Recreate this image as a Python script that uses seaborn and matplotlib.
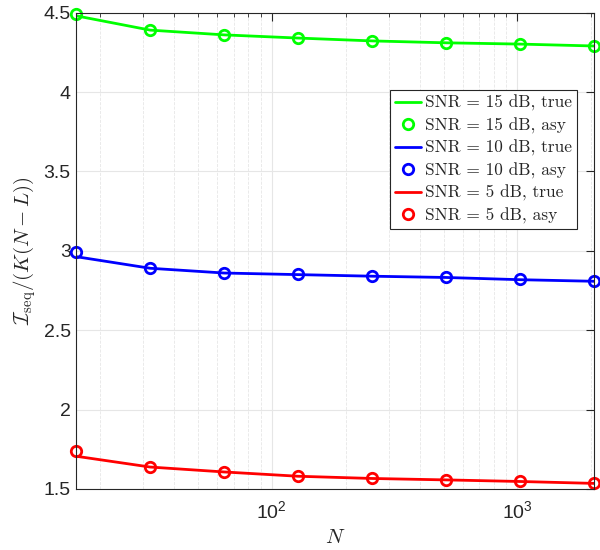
import numpy as np
import pandas as pd
import matplotlib
matplotlib.use('Agg')
import matplotlib.pyplot as plt
import seaborn as sns
from matplotlib.ticker import FormatStrFormatter, LogLocator

N = [16, 32, 64, 128, 256, 512, 1024, 2048]
snr_labels = ['15', '10', '5']
colors = {'15': '#00ff00', '10': '#0000ff', '5': '#ff0000'}

true_15 = [4.48, 4.39, 4.36, 4.34, 4.322, 4.31, 4.302, 4.29]
asy_15 = [4.49, 4.393, 4.36, 4.342, 4.322, 4.311, 4.305, 4.29]
true_10 = [2.963, 2.89, 2.86, 2.85, 2.84, 2.832, 2.818, 2.808]
asy_10 = [2.993, 2.89, 2.862, 2.852, 2.84, 2.833, 2.82, 2.812]
true_5 = [1.706, 1.638, 1.607, 1.58, 1.566, 1.557, 1.547, 1.535]
asy_5 = [1.739, 1.64, 1.609, 1.58, 1.567, 1.558, 1.548, 1.538]

true_vals = {'15': true_15, '10': true_10, '5': true_5}
asy_vals = {'15': asy_15, '10': asy_10, '5': asy_5}

sns.set_style('white')
plt.rcParams['font.family'] = ['Liberation Sans', 'DejaVu Sans']
plt.rcParams['mathtext.fontset'] = 'cm'

fig = plt.figure(figsize=(6, 5.5), dpi=100)
ax = fig.add_axes([0.127, 0.111, 0.863, 0.866])

for s in snr_labels:
    df_true = pd.DataFrame({'N': N, 'val': true_vals[s]})
    df_asy = pd.DataFrame({'N': N, 'val': asy_vals[s]})
    sns.lineplot(data=df_true, x='N', y='val', ax=ax, color=colors[s], linewidth=2,
                 label='SNR = %s dB, true' % s)
    ax.plot(df_asy['N'], df_asy['val'], linestyle='none', marker='o', markersize=7.5,
            markerfacecolor='none', markeredgecolor=colors[s], markeredgewidth=2,
            label='SNR = %s dB, asy' % s, clip_on=False)

ax.set_xscale('log')
ax.set_xlim(16, 2048)
ax.set_ylim(1.5, 4.5)
ax.set_yticks([1.5, 2, 2.5, 3, 3.5, 4, 4.5])
ax.yaxis.set_major_formatter(FormatStrFormatter('%g'))
ax.xaxis.set_minor_locator(LogLocator(base=10, subs=np.arange(2, 10)))

ax.grid(True, which='major', color='#e6e6e6', linewidth=0.8)
ax.grid(True, which='minor', axis='x', color='#e6e6e6', linestyle='--', linewidth=0.6)
ax.set_axisbelow(True)

for sp in ax.spines.values():
    sp.set_color('#262626')
    sp.set_linewidth(0.8)
ax.tick_params(which='both', direction='in', top=True, right=True, colors='#262626', labelsize=14)
ax.tick_params(which='major', length=6)
ax.tick_params(which='minor', length=3)
ax.tick_params(axis='x', which='major', pad=8)
ax.tick_params(axis='y', which='major', pad=4)

ax.set_xlabel(r'$N$', fontsize=15, labelpad=4)
ax.set_ylabel(r'$\mathcal{I}_{\rm seq}/(K(N-L))$', fontsize=15, labelpad=4)

leg = ax.legend(loc='upper left', bbox_to_anchor=(0.606, 0.838),
                prop={'family': 'cmr10', 'size': 12.5},
                frameon=True, fancybox=False, edgecolor='#262626', framealpha=1,
                borderpad=0.3, labelspacing=0.36, handlelength=1.5, handletextpad=0.2,
                borderaxespad=0)
leg.get_frame().set_linewidth(0.8)

fig.savefig('out.png', dpi=100)
